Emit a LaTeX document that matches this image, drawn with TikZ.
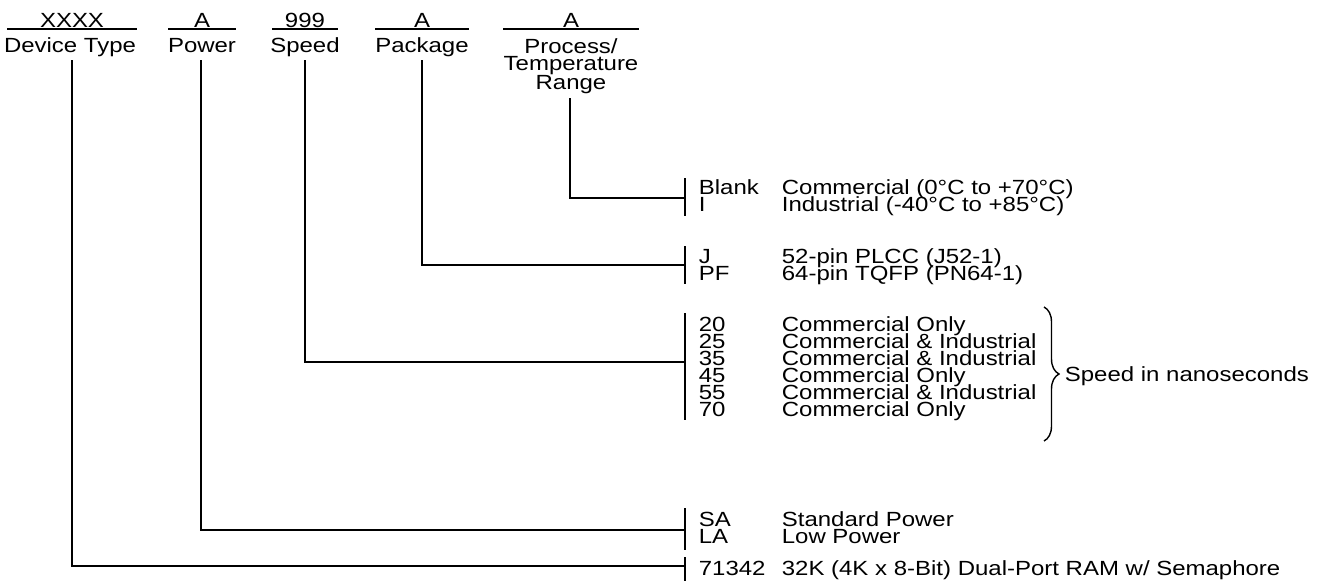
\documentclass[tikz,border=0pt]{standalone}
\usepackage{fontspec}
\setmainfont{Liberation Sans}[FakeStretch=1.17]
\usetikzlibrary{decorations.pathreplacing}
\newcommand\figfont{\fontsize{20.5}{17}\selectfont}
\begin{document}
\begin{tikzpicture}[x=1pt,y=-1pt,line width=1.7pt,
  txt/.style={inner sep=0pt,font=\figfont,anchor=base west},
  ctr/.style={inner sep=0pt,font=\figfont,anchor=base},
  field/.style={inner xsep=0pt,inner ysep=1pt,text depth=0pt,font=\figfont,anchor=base},
  uline/.style={line width=1.7pt},
  conn/.style={line width=1.7pt},
  barline/.style={line width=1.7pt},
  brc/.style={decorate,decoration={brace,amplitude=15pt},line width=1.4pt}]
\useasboundingbox (0,0) rectangle (1323,584);

% header fields
\node[field,minimum width=128pt] (fDev) at (72,27) {XXXX};
\node[field,minimum width=66pt]  (fPow) at (202,27) {A};
\node[field,minimum width=64pt]  (fSpd) at (305,27) {999};
\node[field,minimum width=92pt]  (fPkg) at (422,27) {A};
\node[field,minimum width=134pt] (fPrc) at (571,27) {A};
\foreach \f in {fDev,fPow,fSpd,fPkg,fPrc}
  \draw[uline] (\f.south west) -- (\f.south east);

% titles
\node[ctr] (tDev) at (70,52.5) {Device Type};
\node[ctr] (tPow) at (202,52.5) {Power};
\node[ctr] (tSpd) at (305,52.5) {Speed};
\node[ctr] (tPkg) at (422,52.5) {Package};
\node[ctr,anchor=north,align=center] (tPrc) at (571,37.5) {Process/\\Temperature\\Range};

% start points of connectors
\coordinate (vDev) at (72,60);
\coordinate (vPow) at (201,60);
\coordinate (vSpd) at (305,60);
\coordinate (vPkg) at (422,60);
\coordinate (vPrc) at (570,98);

% bars
\coordinate (b1t) at (685,178); \coordinate (b1b) at (685,216); \coordinate (h1) at (685,198);
\coordinate (b2t) at (685,246); \coordinate (b2b) at (685,284); \coordinate (h2) at (685,265);
\coordinate (b3t) at (685,313); \coordinate (b3b) at (685,420); \coordinate (h3) at (685,362);
\coordinate (b4t) at (685,508); \coordinate (b4b) at (685,550); \coordinate (h4) at (685,530);
\coordinate (b5t) at (685,557); \coordinate (b5b) at (685,581); \coordinate (h5) at (685,566);
\foreach \b in {1,...,5} \draw[barline] (b\b t) -- (b\b b);

% connectors
\draw[conn] (vPrc) |- (h1);
\draw[conn] (vPkg) |- (h2);
\draw[conn] (vSpd) |- (h3);
\draw[conn] (vPow) |- (h4);
\draw[conn] (vDev) |- (h5);

% group 1
\node[txt] (c1a) at (698,194.5) {Blank};
\node[txt] (d1a) at (781,194.5) {Commercial (0°C to +70°C)};
\node[txt] (c1b) at (698,211.5) {I};
\node[txt] (d1b) at (781,211.5) {Industrial (-40°C to +85°C)};
% group 2
\node[txt] (c2a) at (698,263.5) {J};
\node[txt] (d2a) at (781,263.5) {52-pin PLCC (J52-1)};
\node[txt] (c2b) at (698,280.5) {PF};
\node[txt] (d2b) at (781,280.5) {64-pin TQFP (PN64-1)};
% group 3
\node[txt] (c3a) at (698,331.5) {20};
\node[txt] (d3a) at (781,331.5) {Commercial Only};
\node[txt] (c3b) at (698,348.5) {25};
\node[txt] (d3b) at (781,348.5) {Commercial \& Industrial};
\node[txt] (c3c) at (698,365.5) {35};
\node[txt] (d3c) at (781,365.5) {Commercial \& Industrial};
\node[txt] (c3d) at (698,382.5) {45};
\node[txt] (d3d) at (781,382.5) {Commercial Only};
\node[txt] (c3e) at (698,399.5) {55};
\node[txt] (d3e) at (781,399.5) {Commercial \& Industrial};
\node[txt] (c3f) at (698,416.5) {70};
\node[txt] (d3f) at (781,416.5) {Commercial Only};
\coordinate (brT) at (1044,307);
\coordinate (brB) at (1044,441);
\draw[brc] (brT) -- (brB);
\node[txt] (sp) at (1064,381.5) {Speed in nanoseconds};
% group 4
\node[txt] (c4a) at (698,526.5) {SA};
\node[txt] (d4a) at (781,526.5) {Standard Power};
\node[txt] (c4b) at (698,543.5) {LA};
\node[txt] (d4b) at (781,543.5) {Low Power};
% group 5
\node[txt] (c5a) at (698,575.5) {71342};
\node[txt] (d5a) at (781,575.5) {32K (4K x 8-Bit) Dual-Port RAM w/ Semaphore};
\end{tikzpicture}
\end{document}
